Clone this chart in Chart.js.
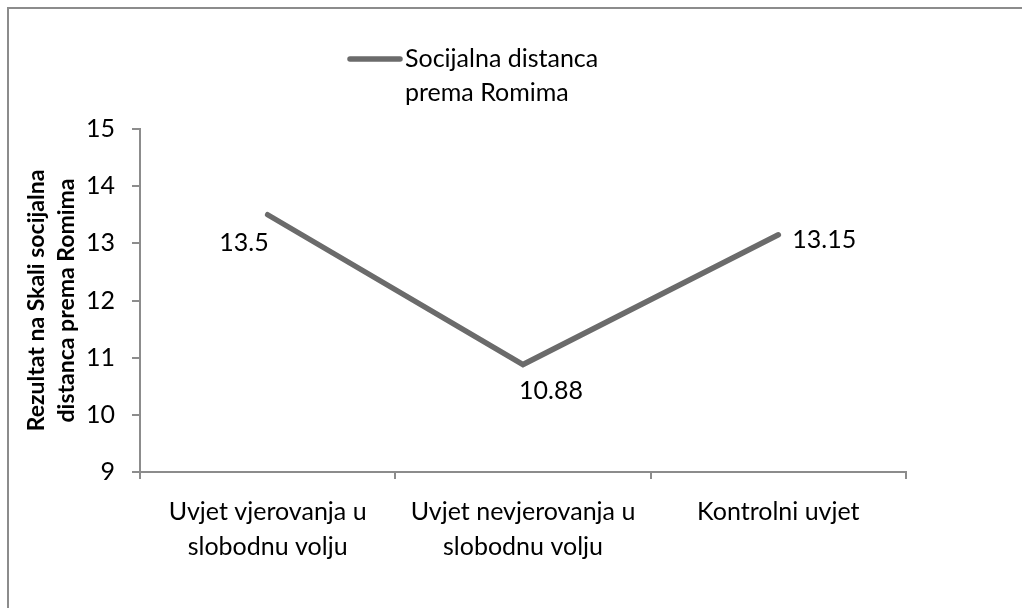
<!DOCTYPE html>
<html>
<head>
<meta charset="utf-8">
<script src="https://cdn.jsdelivr.net/npm/chart.js@4.4.1/dist/chart.umd.min.js"></script>
<style>
  html, body { margin: 0; padding: 0; background: #fff; overflow: hidden; }
  #okvir {
    position: absolute; left: 7px; top: 7px; width: 1100px; height: 700px;
    border-left: 2px solid #8c8c8c; border-top: 2px solid #8c8c8c;
  }
  canvas { position: absolute; left: 0; top: 0; }
</style>
</head>
<body>
<div id="okvir"></div>
<canvas id="grafikon" width="1022" height="608"></canvas>
<script>
// =======================
// Podaci
// =======================
const kategorije = [
  ["Uvjet vjerovanja u", "slobodnu volju"],
  ["Uvjet nevjerovanja u", "slobodnu volju"],
  "Kontrolni uvjet"
];
const nazivSerije = "Socijalna distanca prema Romima";
const vrijednosti = [13.5, 10.88, 13.15];
const yMin = 9;
const yMax = 15;
const naslovY = ["Rezultat na Skali socijalna", "distanca prema Romima"];

const FONT = "Lato, 'Open Sans', sans-serif";
const SIVA_LINIJA = "#6b6b6b";
const SIVA_OS = "#8c8c8c";

// =======================
// Oznake vrijednosti (pomak od tocke)
// =======================
const oznakePlugin = {
  id: "oznake",
  afterDatasetsDraw(chart) {
    const ctx = chart.ctx;
    const meta = chart.getDatasetMeta(0);
    const smjestaj = [
      { align: "right", dx: 1, dy: 28 },
      { align: "left", dx: -4, dy: 26 },
      { align: "left", dx: 14, dy: 5 }
    ];
    ctx.save();
    ctx.font = "25px " + FONT;
    ctx.fillStyle = "#000";
    ctx.textBaseline = "middle";
    meta.data.forEach((pt, i) => {
      const s = smjestaj[i];
      ctx.textAlign = s.align;
      ctx.fillText(String(chart.data.datasets[0].data[i]), pt.x + s.dx, pt.y + s.dy);
    });
    ctx.restore();
  }
};

// =======================
// Legenda (dva reda, kao u Excelu)
// =======================
const legendaPlugin = {
  id: "legenda",
  afterDraw(chart) {
    const ctx = chart.ctx;
    const ds = chart.data.datasets[0];
    ctx.save();
    ctx.font = "25px " + FONT;
    // prelamanje teksta
    const rijeci = ds.label.split(" ");
    const redovi = [];
    let red = "";
    rijeci.forEach((r) => {
      const probni = red ? red + " " + r : r;
      if (ctx.measureText(probni).width > 215 && red) {
        redovi.push(red);
        red = r;
      } else {
        red = probni;
      }
    });
    redovi.push(red);

    const x0 = 347, y0 = 59;
    ctx.strokeStyle = ds.borderColor;
    ctx.lineWidth = ds.borderWidth;
    ctx.lineCap = "round";
    ctx.beginPath();
    ctx.moveTo(x0 + 3, y0);
    ctx.lineTo(x0 + 53, y0);
    ctx.stroke();

    ctx.fillStyle = "#000";
    ctx.textAlign = "left";
    ctx.textBaseline = "middle";
    redovi.forEach((t, i) => ctx.fillText(t, x0 + 58, y0 + i * 34));
    ctx.restore();
  }
};

// =======================
// Grafikon
// =======================
const ctx = document.getElementById("grafikon").getContext("2d");
const grafikon = new Chart(ctx, {
  type: "line",
  data: {
    labels: kategorije,
    datasets: [{
      label: nazivSerije,
      data: vrijednosti,
      borderColor: SIVA_LINIJA,
      borderWidth: 5.5,
      borderCapStyle: "round",
      borderJoinStyle: "miter",
      pointRadius: 0,
      tension: 0,
      fill: false
    }]
  },
  options: {
    responsive: false,
    animation: false,
    layout: { padding: { left: 8, top: 129, right: 116, bottom: 0 } },
    plugins: {
      legend: { display: false },
      tooltip: { enabled: false }
    },
    scales: {
      x: {
        offset: true,
        grid: {
          offset: true,
          drawOnChartArea: false,
          drawTicks: true,
          tickLength: 7,
          color: SIVA_OS,
          lineWidth: 2
        },
        border: { display: true, color: SIVA_OS, width: 2 },
        ticks: {
          color: "#000",
          padding: 15,
          maxRotation: 0,
          autoSkip: false,
          font: { family: FONT, size: 25, lineHeight: "35px" }
        },
        afterFit(scale) { scale.height = 136; }
      },
      y: {
        min: yMin,
        max: yMax,
        grid: {
          drawOnChartArea: false,
          drawTicks: true,
          tickLength: 8,
          color: SIVA_OS,
          lineWidth: 2
        },
        border: { display: true, color: SIVA_OS, width: 2 },
        ticks: {
          stepSize: 1,
          color: "#000",
          padding: 17,
          font: { family: FONT, size: 25 }
        },
        title: {
          display: true,
          text: naslovY,
          color: "#000",
          padding: { top: 14, bottom: 0 },
          font: { family: FONT, size: 23, weight: "bold", lineHeight: "30px" }
        },
        afterFit(scale) { scale.width = 132; }
      }
    }
  },
  plugins: [oznakePlugin, legendaPlugin]
});
</script>
</body>
</html>
